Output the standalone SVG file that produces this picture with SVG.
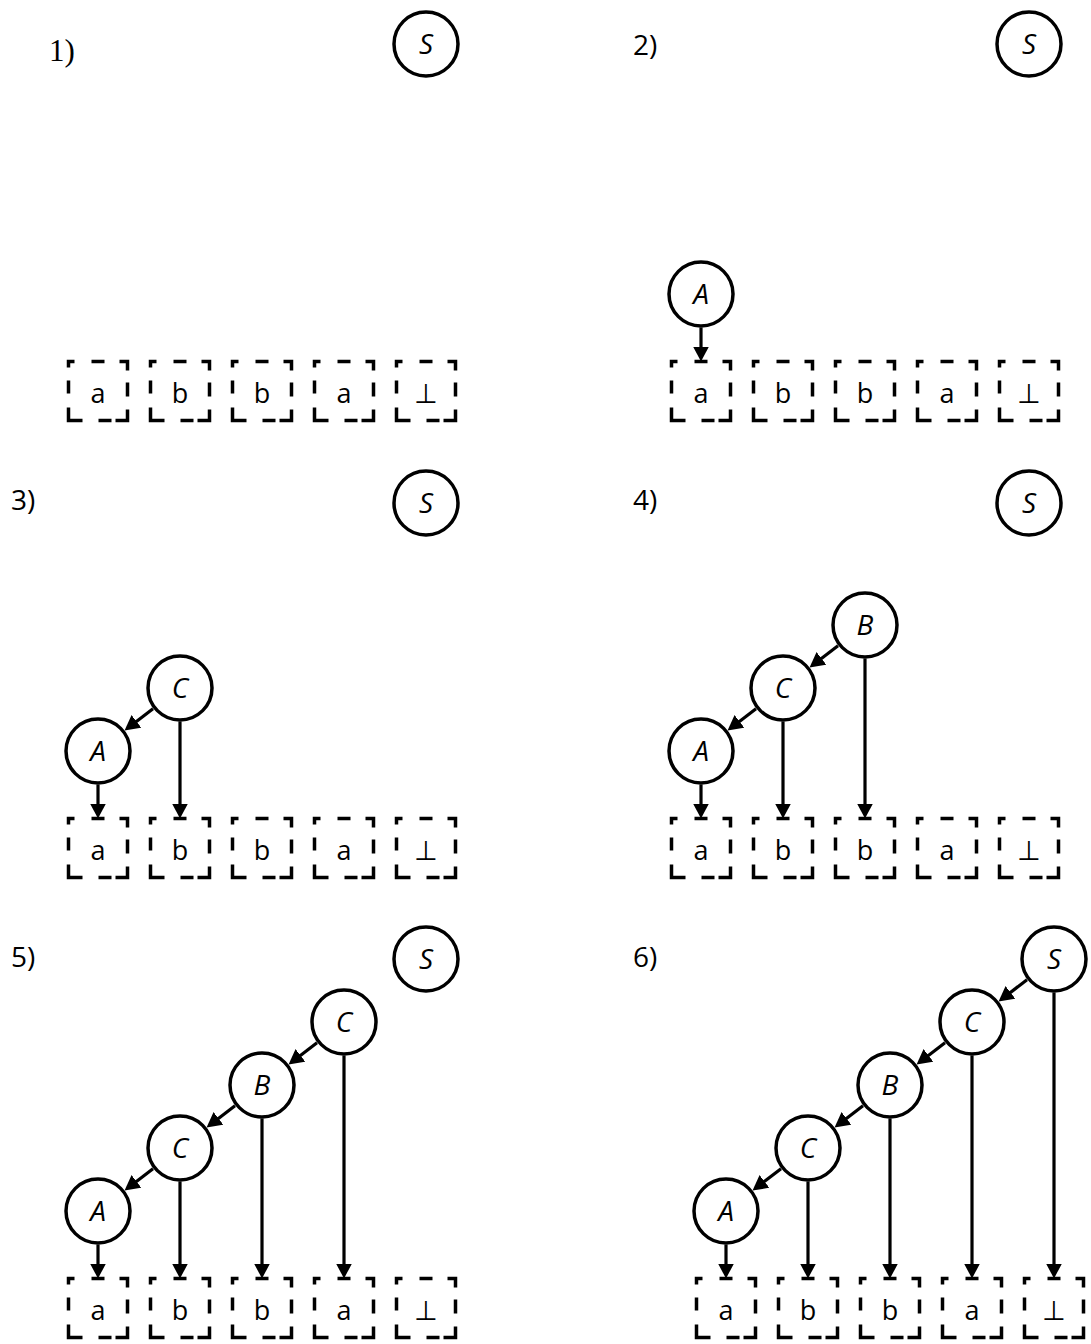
<svg xmlns="http://www.w3.org/2000/svg" width="1091" height="1344" viewBox="0 0 1091 1344">
<style>
.bx{fill:none;stroke:#000;stroke-width:3.5;stroke-linecap:butt;stroke-linejoin:miter}
.bt{font-family:"Open Sans","DejaVu Sans",sans-serif;font-size:27px;text-anchor:middle;fill:#000}
.nd circle{fill:#fff;stroke:#000;stroke-width:3.5}
.nd text{font-family:"Open Sans","DejaVu Sans",sans-serif;font-style:italic;font-size:28px;text-anchor:middle;fill:#000}
.lb{font-family:"Open Sans","DejaVu Sans",sans-serif;font-size:28px;fill:#000}
.lb1{font-family:"Liberation Serif","Times New Roman",serif;font-size:31px;fill:#000}
.cn line{stroke:#000;stroke-width:3.2;marker-end:url(#ah)}
</style>
<defs>
<marker id="ah" viewBox="0 0 15 16" refX="7" refY="8" markerWidth="15" markerHeight="16" markerUnits="userSpaceOnUse" orient="auto"><path d="M0,0L15,8L0,16z" fill="#000"/></marker>
<path id="box" class="bx" d="M0,6V0H6 M23,0H36 M51,0H59V9 M59,21V35 M59,48V59H47 M43,59H30 M14,59H0V46 M0,32V19"/>
</defs>

<!-- labels -->
<text class="lb1" x="49" y="61">1)</text>
<text class="lb" x="633" y="55">2)</text>
<text class="lb" x="11" y="510">3)</text>
<text class="lb" x="633" y="510">4)</text>
<text class="lb" x="11" y="967">5)</text>
<text class="lb" x="633" y="967">6)</text>

<!-- Panel 1 boxes -->
<g id="p1-boxes">
<g id="p1-b1"><use href="#box" x="68.5" y="361.5"/><text class="bt" x="98" y="403">a</text></g>
<g id="p1-b2"><use href="#box" x="150.5" y="361.5"/><text class="bt" x="180" y="403">b</text></g>
<g id="p1-b3"><use href="#box" x="232.5" y="361.5"/><text class="bt" x="262" y="403">b</text></g>
<g id="p1-b4"><use href="#box" x="314.5" y="361.5"/><text class="bt" x="344" y="403">a</text></g>
<g id="p1-b5"><use href="#box" x="396.5" y="361.5"/><text class="bt" x="426" y="403">⊥</text></g>
</g>
<!-- Panel 2 boxes -->
<g id="p2-boxes">
<g id="p2-b1"><use href="#box" x="671.5" y="361.5"/><text class="bt" x="701" y="403">a</text></g>
<g id="p2-b2"><use href="#box" x="753.5" y="361.5"/><text class="bt" x="783" y="403">b</text></g>
<g id="p2-b3"><use href="#box" x="835.5" y="361.5"/><text class="bt" x="865" y="403">b</text></g>
<g id="p2-b4"><use href="#box" x="917.5" y="361.5"/><text class="bt" x="947" y="403">a</text></g>
<g id="p2-b5"><use href="#box" x="999.5" y="361.5"/><text class="bt" x="1029" y="403">⊥</text></g>
</g>
<!-- Panel 3 boxes -->
<g id="p3-boxes">
<g id="p3-b1"><use href="#box" x="68.5" y="818.5"/><text class="bt" x="98" y="860">a</text></g>
<g id="p3-b2"><use href="#box" x="150.5" y="818.5"/><text class="bt" x="180" y="860">b</text></g>
<g id="p3-b3"><use href="#box" x="232.5" y="818.5"/><text class="bt" x="262" y="860">b</text></g>
<g id="p3-b4"><use href="#box" x="314.5" y="818.5"/><text class="bt" x="344" y="860">a</text></g>
<g id="p3-b5"><use href="#box" x="396.5" y="818.5"/><text class="bt" x="426" y="860">⊥</text></g>
</g>
<!-- Panel 4 boxes -->
<g id="p4-boxes">
<g id="p4-b1"><use href="#box" x="671.5" y="818.5"/><text class="bt" x="701" y="860">a</text></g>
<g id="p4-b2"><use href="#box" x="753.5" y="818.5"/><text class="bt" x="783" y="860">b</text></g>
<g id="p4-b3"><use href="#box" x="835.5" y="818.5"/><text class="bt" x="865" y="860">b</text></g>
<g id="p4-b4"><use href="#box" x="917.5" y="818.5"/><text class="bt" x="947" y="860">a</text></g>
<g id="p4-b5"><use href="#box" x="999.5" y="818.5"/><text class="bt" x="1029" y="860">⊥</text></g>
</g>
<!-- Panel 5 boxes -->
<g id="p5-boxes">
<g id="p5-b1"><use href="#box" x="68.5" y="1278.5"/><text class="bt" x="98" y="1320">a</text></g>
<g id="p5-b2"><use href="#box" x="150.5" y="1278.5"/><text class="bt" x="180" y="1320">b</text></g>
<g id="p5-b3"><use href="#box" x="232.5" y="1278.5"/><text class="bt" x="262" y="1320">b</text></g>
<g id="p5-b4"><use href="#box" x="314.5" y="1278.5"/><text class="bt" x="344" y="1320">a</text></g>
<g id="p5-b5"><use href="#box" x="396.5" y="1278.5"/><text class="bt" x="426" y="1320">⊥</text></g>
</g>
<!-- Panel 6 boxes -->
<g id="p6-boxes">
<g id="p6-b1"><use href="#box" x="696.5" y="1278.5"/><text class="bt" x="726" y="1320">a</text></g>
<g id="p6-b2"><use href="#box" x="778.5" y="1278.5"/><text class="bt" x="808" y="1320">b</text></g>
<g id="p6-b3"><use href="#box" x="860.5" y="1278.5"/><text class="bt" x="890" y="1320">b</text></g>
<g id="p6-b4"><use href="#box" x="942.5" y="1278.5"/><text class="bt" x="972" y="1320">a</text></g>
<g id="p6-b5"><use href="#box" x="1024.5" y="1278.5"/><text class="bt" x="1054" y="1320">⊥</text></g>
</g>

<!-- connectors -->
<g id="connectors" class="cn">
<line x1="701" y1="327.5" x2="701" y2="353.5"/>

<line x1="153" y1="708.7" x2="130.9" y2="725.7"/>
<line x1="180" y1="721.5" x2="180" y2="810.5"/>
<line x1="98" y1="784.5" x2="98" y2="810.5"/>

<line x1="838" y1="645.7" x2="815.9" y2="662.7"/>
<line x1="865" y1="658.5" x2="865" y2="810.5"/>
<line x1="756" y1="708.7" x2="733.9" y2="725.7"/>
<line x1="783" y1="721.5" x2="783" y2="810.5"/>
<line x1="701" y1="784.5" x2="701" y2="810.5"/>

<line x1="317" y1="1042.7" x2="294.9" y2="1059.7"/>
<line x1="344" y1="1055.5" x2="344" y2="1270.5"/>
<line x1="235" y1="1105.7" x2="212.9" y2="1122.7"/>
<line x1="262" y1="1118.5" x2="262" y2="1270.5"/>
<line x1="153" y1="1168.7" x2="130.9" y2="1185.7"/>
<line x1="180" y1="1181.5" x2="180" y2="1270.5"/>
<line x1="98" y1="1244.5" x2="98" y2="1270.5"/>

<line x1="1027" y1="979.7" x2="1004.9" y2="996.7"/>
<line x1="1054" y1="992.5" x2="1054" y2="1270.5"/>
<line x1="945" y1="1042.7" x2="922.9" y2="1059.7"/>
<line x1="972" y1="1055.5" x2="972" y2="1270.5"/>
<line x1="863" y1="1105.7" x2="840.9" y2="1122.7"/>
<line x1="890" y1="1118.5" x2="890" y2="1270.5"/>
<line x1="781" y1="1168.7" x2="758.9" y2="1185.7"/>
<line x1="808" y1="1181.5" x2="808" y2="1270.5"/>
<line x1="726" y1="1244.5" x2="726" y2="1270.5"/>
</g>

<!-- nodes -->
<g id="p1-S" class="nd"><circle cx="426" cy="44" r="32"/><text x="426" y="54">S</text></g>

<g id="p2-S" class="nd"><circle cx="1029" cy="44" r="32"/><text x="1029" y="54">S</text></g>
<g id="p2-A" class="nd"><circle cx="701" cy="294" r="32"/><text x="701" y="304">A</text></g>

<g id="p3-S" class="nd"><circle cx="426" cy="503" r="32"/><text x="426" y="513">S</text></g>
<g id="p3-C" class="nd"><circle cx="180" cy="688" r="32"/><text x="180" y="698">C</text></g>
<g id="p3-A" class="nd"><circle cx="98" cy="751" r="32"/><text x="98" y="761">A</text></g>

<g id="p4-S" class="nd"><circle cx="1029" cy="503" r="32"/><text x="1029" y="513">S</text></g>
<g id="p4-B" class="nd"><circle cx="865" cy="625" r="32"/><text x="865" y="635">B</text></g>
<g id="p4-C" class="nd"><circle cx="783" cy="688" r="32"/><text x="783" y="698">C</text></g>
<g id="p4-A" class="nd"><circle cx="701" cy="751" r="32"/><text x="701" y="761">A</text></g>

<g id="p5-S" class="nd"><circle cx="426" cy="959" r="32"/><text x="426" y="969">S</text></g>
<g id="p5-C2" class="nd"><circle cx="344" cy="1022" r="32"/><text x="344" y="1032">C</text></g>
<g id="p5-B" class="nd"><circle cx="262" cy="1085" r="32"/><text x="262" y="1095">B</text></g>
<g id="p5-C" class="nd"><circle cx="180" cy="1148" r="32"/><text x="180" y="1158">C</text></g>
<g id="p5-A" class="nd"><circle cx="98" cy="1211" r="32"/><text x="98" y="1221">A</text></g>

<g id="p6-S" class="nd"><circle cx="1054" cy="959" r="32"/><text x="1054" y="969">S</text></g>
<g id="p6-C2" class="nd"><circle cx="972" cy="1022" r="32"/><text x="972" y="1032">C</text></g>
<g id="p6-B" class="nd"><circle cx="890" cy="1085" r="32"/><text x="890" y="1095">B</text></g>
<g id="p6-C" class="nd"><circle cx="808" cy="1148" r="32"/><text x="808" y="1158">C</text></g>
<g id="p6-A" class="nd"><circle cx="726" cy="1211" r="32"/><text x="726" y="1221">A</text></g>
</svg>
